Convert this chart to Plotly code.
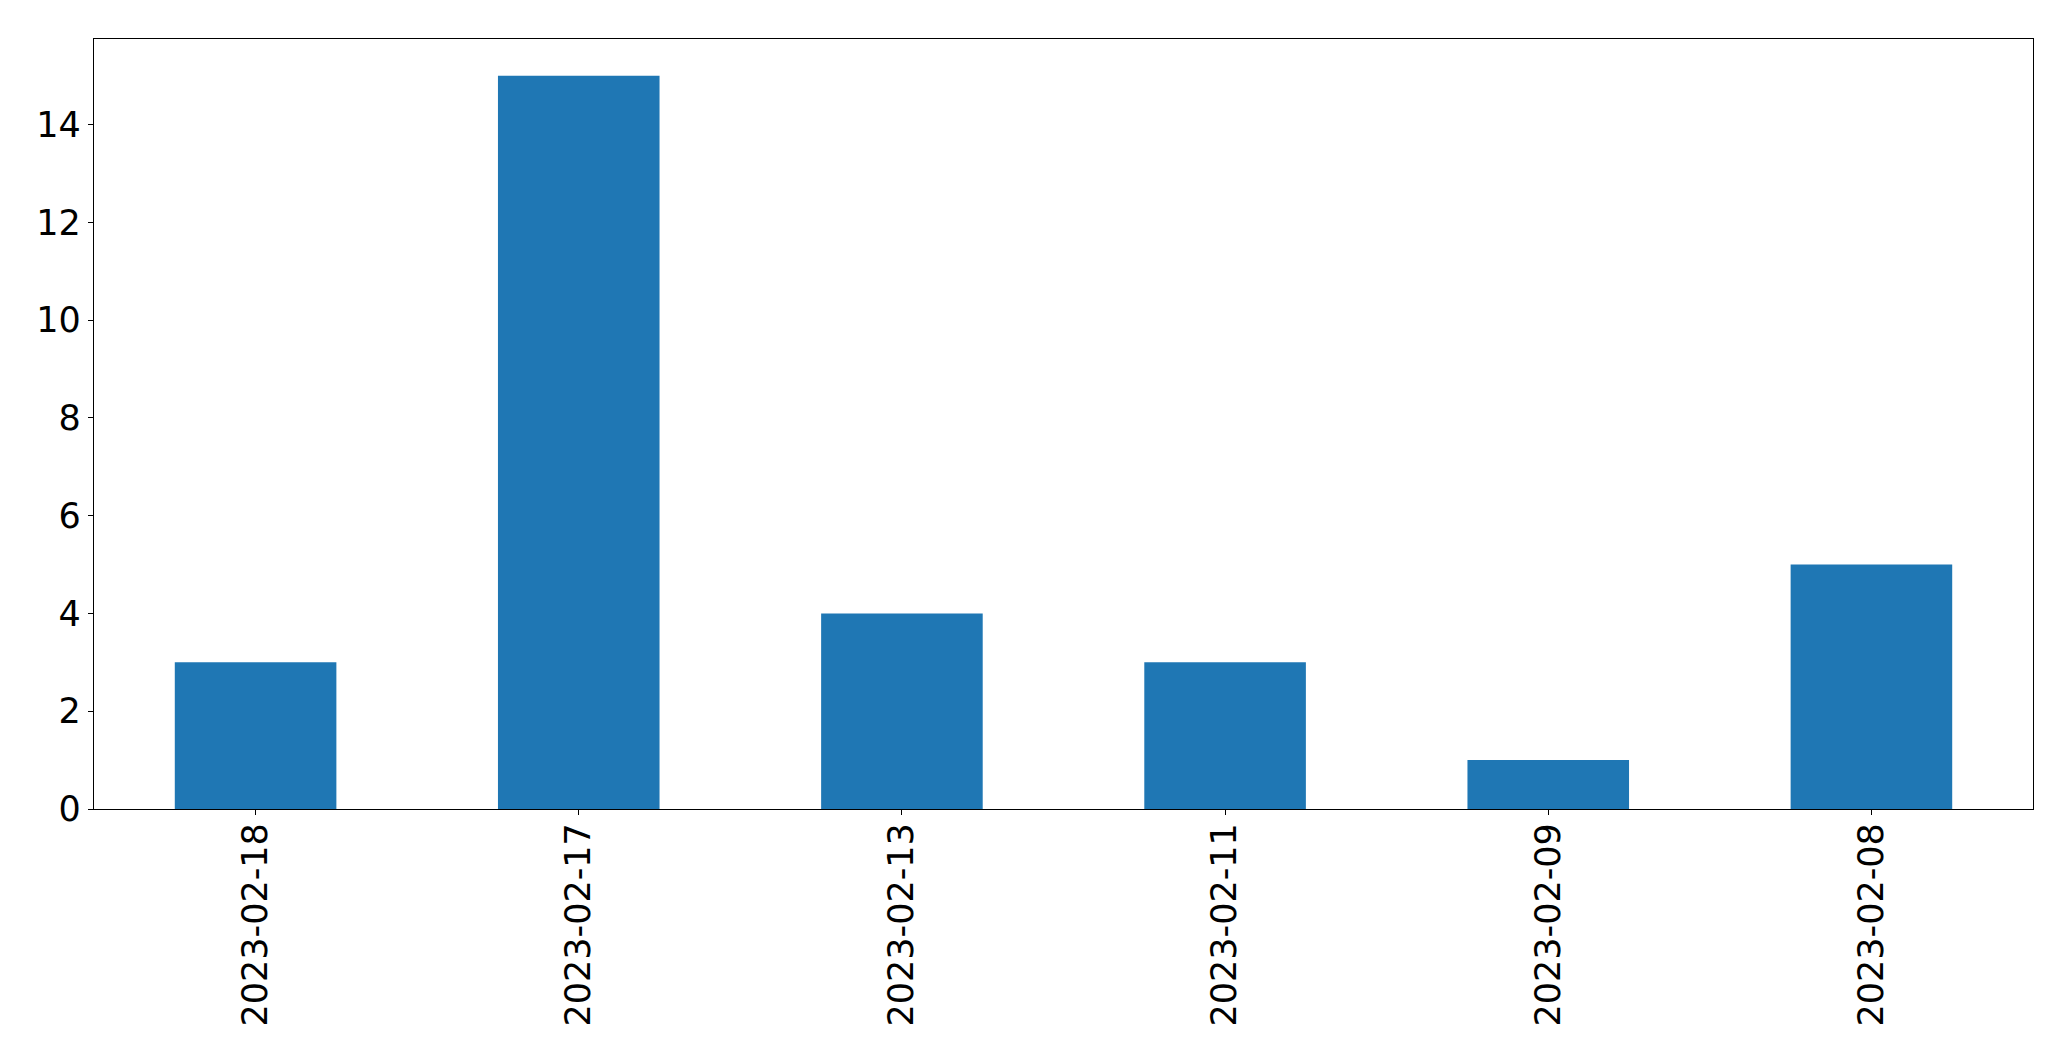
import plotly.graph_objects as go

dates = ["2023-02-18", "2023-02-17", "2023-02-13", "2023-02-11", "2023-02-09", "2023-02-08"]
counts = [3, 15, 4, 3, 1, 5]

fig = go.Figure(go.Bar(x=dates, y=counts, width=0.5, marker=dict(color="#1f77b4", line=dict(width=0))))

axis_common = dict(
    showline=True, linecolor="black", linewidth=1.3, mirror=True,
    ticks="outside", ticklen=5, tickwidth=1.3, tickcolor="black",
    showgrid=False, zeroline=False,
    tickfont=dict(family="DejaVu Sans", size=35, color="black"),
)

# page body has an 8px default margin; compensate so the plot area matches
fig.update_layout(
    width=2055, height=1045,
    margin=dict(l=86, r=30, t=31, b=244),
    paper_bgcolor="white", plot_bgcolor="white",
    showlegend=False,
    xaxis=dict(type="category", range=[-0.5, 5.5], tickangle=-90, ticklabelstandoff=-6, **axis_common),
    yaxis=dict(range=[0, 15.75], tickvals=[0, 2, 4, 6, 8, 10, 12, 14], **axis_common),
)

fig.write_html("out.html")
